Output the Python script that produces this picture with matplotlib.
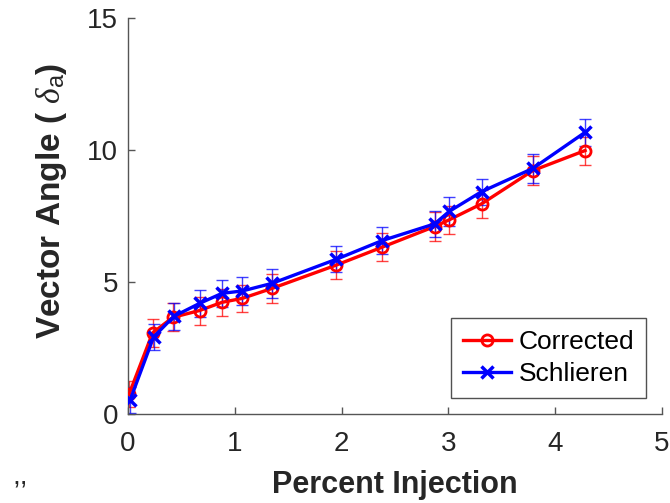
import matplotlib
matplotlib.use("Agg")
import matplotlib.pyplot as plt

plt.rcParams['font.family'] = ['Liberation Sans', 'DejaVu Sans']
plt.rcParams['mathtext.fontset'] = 'custom'
plt.rcParams['mathtext.it'] = 'Liberation Serif:italic'
plt.rcParams['mathtext.rm'] = 'Liberation Sans'

# Data
x_corr = [0.01, 0.23, 0.42, 0.67, 0.88, 1.07, 1.35, 1.95, 2.38, 2.87, 3.01, 3.31, 3.79, 4.28]
y_corr = [0.75, 3.07, 3.66, 3.92, 4.23, 4.38, 4.76, 5.64, 6.32, 7.10, 7.36, 7.96, 9.22, 9.98]
e_corr = [0.50, 0.53, 0.53, 0.53, 0.52, 0.52, 0.54, 0.53, 0.53, 0.54, 0.53, 0.52, 0.55, 0.53]

x_sch = [0.02, 0.24, 0.43, 0.67, 0.88, 1.07, 1.35, 1.95, 2.38, 2.87, 3.01, 3.31, 3.79, 4.28]
y_sch = [0.53, 2.92, 3.70, 4.19, 4.57, 4.66, 4.95, 5.86, 6.57, 7.20, 7.68, 8.42, 9.30, 10.67]
e_sch = [0.50, 0.50, 0.50, 0.52, 0.50, 0.52, 0.55, 0.50, 0.50, 0.50, 0.55, 0.50, 0.54, 0.50]

xticks = [0, 1, 2, 3, 4, 5]
yticks = [0, 5, 10, 15]

fig = plt.figure(figsize=(6.7, 5.03), dpi=100)
ax = fig.add_axes([128/670, 1 - 414/503, 534/670, 396/503])

ax.errorbar(x_corr, y_corr, yerr=e_corr, fmt='none', ecolor=(1, 0, 0, 0.75),
            elinewidth=1.0, capsize=4, capthick=1.0, zorder=2)
ax.errorbar(x_sch, y_sch, yerr=e_sch, fmt='none', ecolor=(0, 0, 1, 0.75),
            elinewidth=1.0, capsize=4, capthick=1.0, zorder=2)

ax.plot(x_corr, y_corr, color='#ff0000', lw=2.4, marker='o', ms=8,
        mfc='none', mec='#ff0000', mew=2.0, label='Corrected', zorder=3)
ax.plot(x_sch, y_sch, color='#0000ff', lw=2.4, marker='x', ms=8,
        mec='#0000ff', mew=2.5, label='Schlieren', zorder=4)

ax.set_xlim(0, 5)
ax.set_ylim(0, 15)
ax.set_xticks(xticks)
ax.set_yticks(yticks)
ax.set_xticklabels([str(t) for t in xticks])
ax.set_yticklabels([str(t) for t in yticks])

for s in ['top', 'right']:
    ax.spines[s].set_visible(False)
for s in ['left', 'bottom']:
    ax.spines[s].set_color('#555555')
    ax.spines[s].set_linewidth(1.0)
ax.tick_params(direction='in', length=5, width=1.0, color='#555555',
               labelsize=20, labelcolor='#262626')
ax.tick_params(axis='x', pad=12)
ax.tick_params(axis='y', pad=7)

ax.set_xlabel('Percent Injection', fontsize=22, fontweight='bold', color='#262626')
ax.xaxis.set_label_coords(0.5, -0.142)
ax.set_ylabel(r'Vector Angle ( $\mathit{\delta}_{\mathrm{a}}$)', fontsize=24,
              fontweight='bold', color='#262626')
ax.yaxis.set_label_coords(-0.11, 0.537)

leg = ax.legend(loc='lower right', bbox_to_anchor=(0.97, 0.04), fontsize=19,
                frameon=True, fancybox=False, edgecolor='#262626',
                borderaxespad=0, handlelength=1.8, handletextpad=0.3,
                labelspacing=0.3, borderpad=0.45)
leg.get_frame().set_linewidth(1.0)

fig.text(20/670, 1 - 484/503, ',,', fontsize=20, color='#262626',
         ha='center', va='baseline')

fig.savefig('out.png', dpi=100)
